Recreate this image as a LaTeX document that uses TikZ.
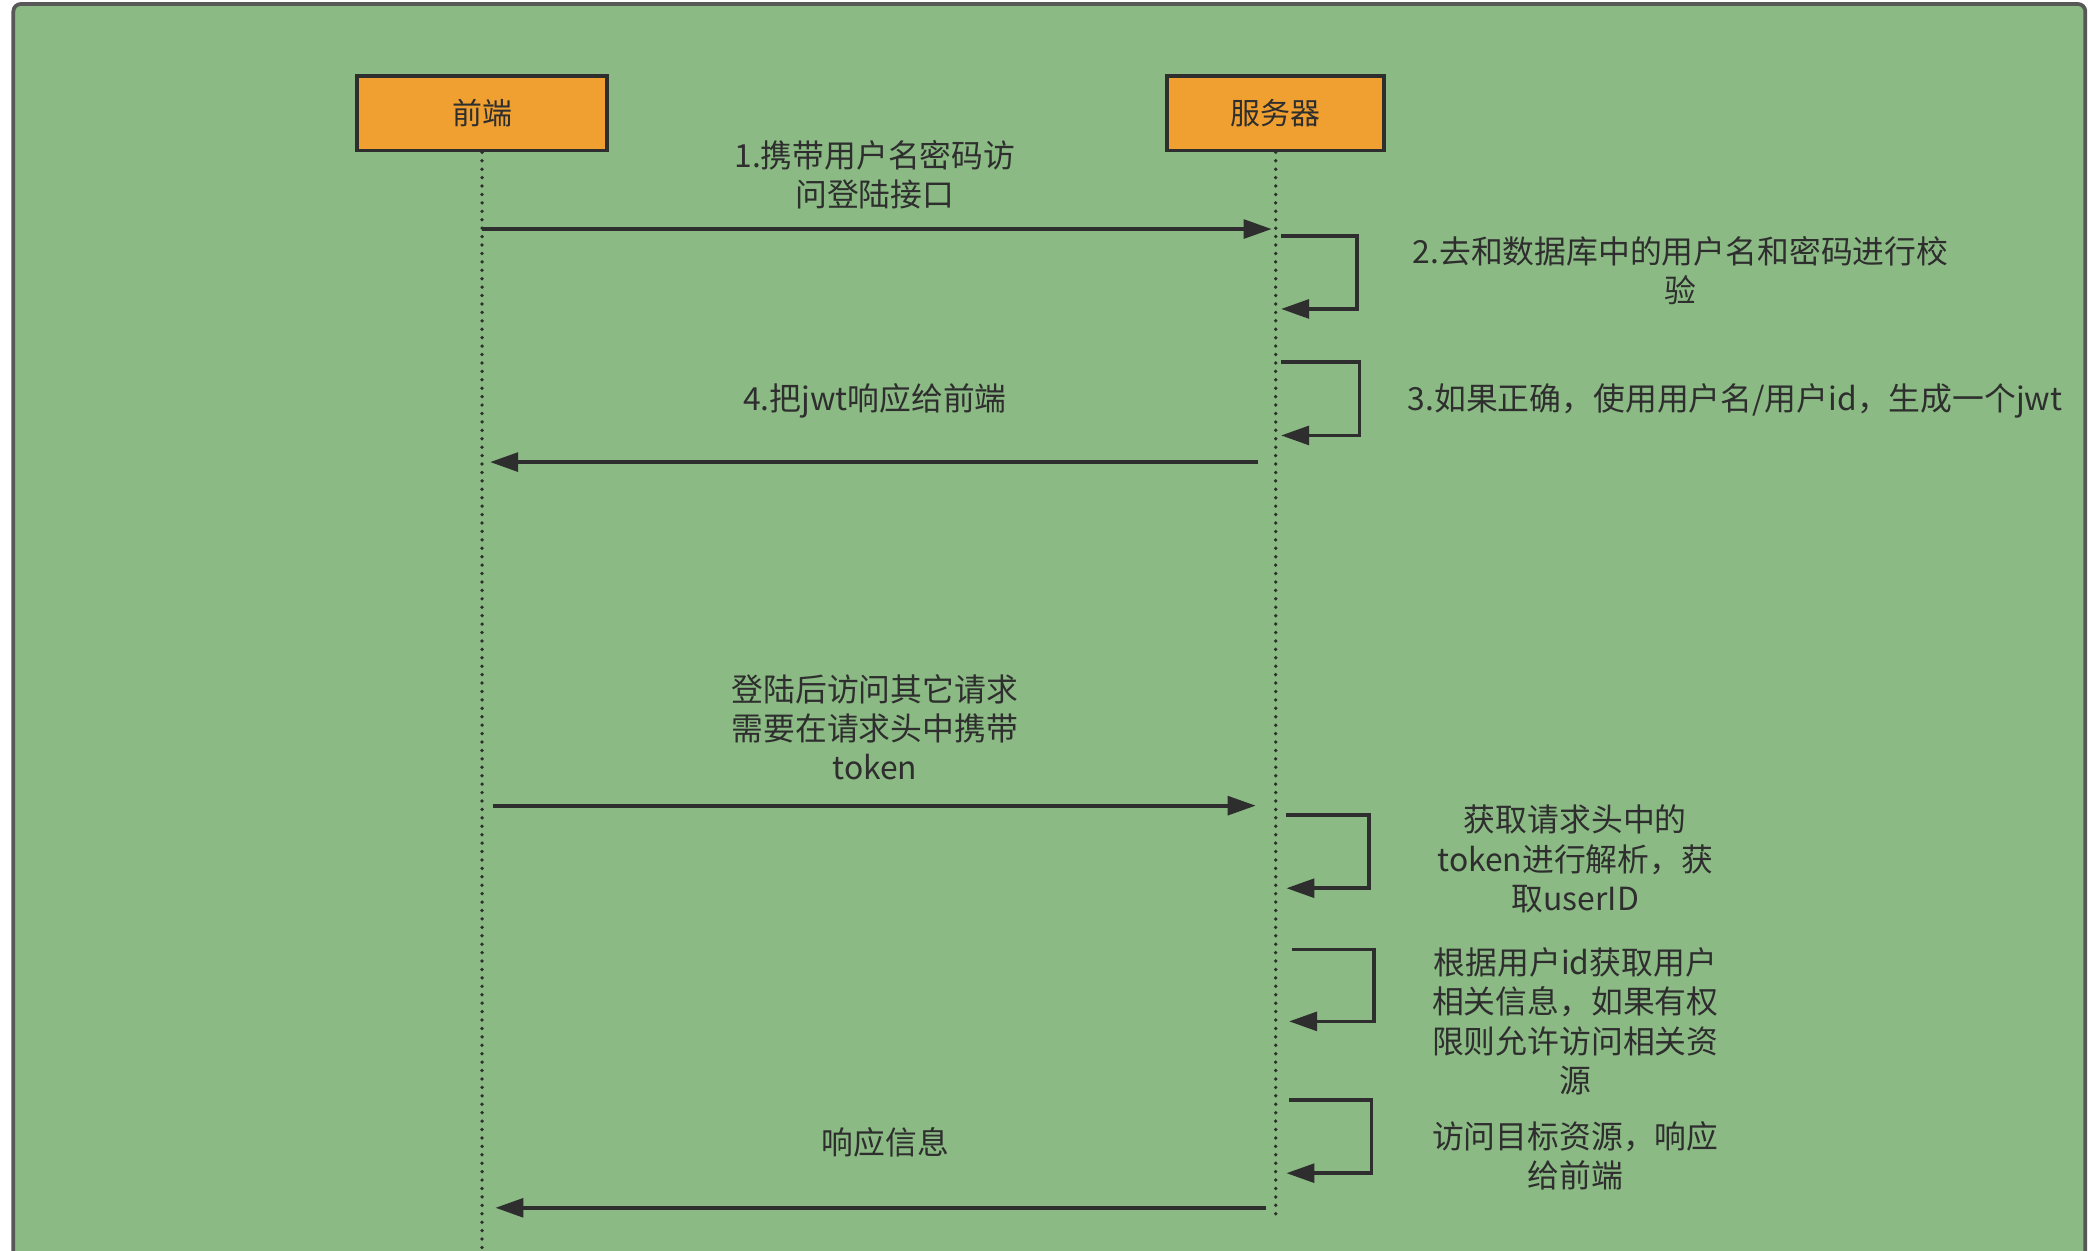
\documentclass[tikz,border=0pt]{standalone}
\usepackage{fontspec}
\setmainfont{Noto Sans CJK SC}
\usetikzlibrary{arrows.meta}
\definecolor{bg}{HTML}{8BBA84}
\definecolor{box}{HTML}{F0A030}
\definecolor{ink}{HTML}{2E2E2E}
\begin{document}
\begin{tikzpicture}[x=0.05cm,y=-0.05cm,
  actor/.style={draw=ink,line width=4pt,fill=box,minimum height=2.8cm,font=\fontsize{32}{40}\selectfont,text=ink},
  life/.style={draw=ink,line width=4pt,line cap=round,dash pattern=on 0pt off 9pt},
  msg/.style={draw=ink,line width=4pt,-{Triangle[length=30pt,width=20pt]}},
  lbl/.style={font=\fontsize{34}{42}\selectfont,text=ink,align=center}]
\useasboundingbox (0,0) rectangle (1568,939);
\fill[white] (0,0) rectangle (1568,939);
\draw[fill=bg,draw=ink!80,line width=4pt,rounded corners=8pt] (10,3) rectangle (1566,960);
\node[actor,minimum width=9.4cm] (fe) at (362,85) {前端};
\node[actor,minimum width=8.15cm] (sv) at (958,85) {服务器};
\coordinate (feb) at (362,939);
\coordinate (svb) at (958,915);
\draw[life] (fe.south) -- (feb);
\draw[life] (sv.south) -- (svb);
% 1
\coordinate (a1) at (362,172); \coordinate (b1) at (955,172);
\draw[msg] (a1) -- (b1);
\node[lbl] (l1) at (657,131) {1.携带用户名密码访\\问登陆接口};
% 2
\coordinate (s2) at (962,177); \coordinate (e2) at (962,232);
\draw[msg] (s2) -- (1019,177) -- (1019,232) -- (e2);
\node[lbl] (l2) at (1262,203) {2.去和数据库中的用户名和密码进行校\\验};
% 3
\coordinate (s3) at (962,272); \coordinate (e3) at (962,327);
\draw[msg] (s3) -- (1021,272) -- (1021,327) -- (e3);
\node[lbl] (l3) at (1303,301) {3.如果正确，使用用户名/用户id，生成一个jwt};
% 4
\coordinate (a4) at (945,347); \coordinate (b4) at (368,347);
\draw[msg] (a4) -- (b4);
\node[lbl] (l4) at (657,301) {4.把jwt响应给前端};
% 5
\coordinate (a5) at (370,605); \coordinate (b5) at (943,605);
\draw[msg] (a5) -- (b5);
\node[lbl] (l5) at (657,546) {登陆后访问其它请求\\需要在请求头中携带\\token};
% 6
\coordinate (s6) at (966,612); \coordinate (e6) at (966,667);
\draw[msg] (s6) -- (1028,612) -- (1028,667) -- (e6);
\node[lbl] (l6) at (1183,645) {获取请求头中的\\token进行解析，获\\取userID};
% 7
\coordinate (s7) at (970,713); \coordinate (e7) at (968,767);
\draw[msg] (s7) -- (1032,713) -- (1032,767) -- (e7);
\node[lbl] (l7) at (1183,767) {根据用户id获取用户\\相关信息，如果有权\\限则允许访问相关资\\源};
% 8
\coordinate (s8) at (968,826); \coordinate (e8) at (966,881);
\draw[msg] (s8) -- (1030,826) -- (1030,881) -- (e8);
\node[lbl] (l8) at (1183,868) {访问目标资源，响应\\给前端};
% 9
\coordinate (a9) at (951,907); \coordinate (b9) at (372,907);
\draw[msg] (a9) -- (b9);
\node[lbl] (l9) at (665,858) {响应信息};
\end{tikzpicture}
\end{document}
